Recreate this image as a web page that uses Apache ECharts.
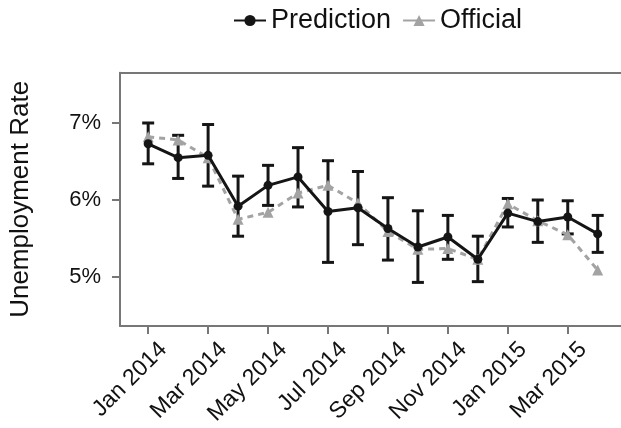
<!DOCTYPE html>
<html>
<head>
<meta charset="utf-8">
<script src="https://cdn.jsdelivr.net/npm/echarts@6/dist/echarts.min.js"></script>
<style>html,body{margin:0;padding:0;background:#fff}#c{width:621px;height:428px}</style>
</head>
<body>
<div id="c"></div>
<script>
const months = ['Jan 2014','Feb 2014','Mar 2014','Apr 2014','May 2014','Jun 2014','Jul 2014','Aug 2014','Sep 2014','Oct 2014','Nov 2014','Dec 2014','Jan 2015','Feb 2015','Mar 2015','Apr 2015'];
const prediction = [6.73, 6.55, 6.58, 5.92, 6.19, 6.30, 5.85, 5.90, 5.63, 5.39, 5.52, 5.23, 5.83, 5.72, 5.78, 5.56];
const lower = [6.47, 6.28, 6.18, 5.53, 5.93, 5.91, 5.19, 5.42, 5.22, 4.93, 5.23, 4.94, 5.65, 5.45, 5.56, 5.32];
const upper = [7.00, 6.84, 6.98, 6.31, 6.45, 6.68, 6.51, 6.37, 6.03, 5.86, 5.80, 5.53, 6.02, 6.00, 5.99, 5.80];
const official = [6.82, 6.78, 6.55, 5.75, 5.84, 6.09, 6.19, 5.96, 5.59, 5.36, 5.37, 5.23, 5.95, 5.73, 5.55, 5.09];
const xTickIdx = [0, 2, 4, 6, 8, 10, 12, 14];
const yTicks = [5, 6, 7];

const font = 'Liberation Sans, Arial, Helvetica, sans-serif';
const chart = echarts.init(document.getElementById('c'), null, {renderer: 'canvas'});
const predData = prediction.map((v, i) => [i, v]);
const offData = official.map((v, i) => [i, v]);
const errData = months.map((m, i) => [i, lower[i], upper[i]]);
const frame = {show: true, onZero: false, lineStyle: {color: '#777', width: 2}};

chart.setOption({
  animation: false,
  backgroundColor: '#fff',
  textStyle: {fontFamily: font},
  legend: {
    left: 228, top: 2,
    itemWidth: 32, itemHeight: 14, itemGap: 11,
    textStyle: {fontSize: 27, color: '#111', fontFamily: font},
    data: [
      {name: 'Prediction'},
      {name: 'Official', lineStyle: {type: 'solid'}}
    ]
  },
  grid: {left: 119.5, right: 0, top: 72.7, bottom: 102, show: false, containLabel: false},
  xAxis: [{
    type: 'value', min: -0.94, max: 15.777, position: 'bottom',
    axisLine: frame,
    splitLine: {show: false},
    axisTick: {show: true, length: 8, lineStyle: {color: '#777', width: 2}, customValues: xTickIdx},
    axisLabel: {
      customValues: xTickIdx, rotate: 45, margin: 19, fontSize: 23, color: '#111', fontFamily: font,
      align: 'right', verticalAlign: 'top', padding: [0, -10, 0, 0],
      formatter: v => months[Math.round(v)]
    }
  }, {
    type: 'value', min: -0.94, max: 15.777, position: 'top',
    axisLine: frame, axisTick: {show: false}, axisLabel: {show: false}, splitLine: {show: false}
  }],
  yAxis: {
    type: 'value', min: 4.364, max: 7.653,
    name: 'Unemployment Rate', nameLocation: 'middle', nameGap: 86,
    nameTextStyle: {fontSize: 26, color: '#111', fontFamily: font},
    axisLine: frame,
    splitLine: {show: false},
    axisTick: {show: true, length: 8, lineStyle: {color: '#777', width: 2}, customValues: yTicks},
    axisLabel: {customValues: yTicks, margin: 19, fontSize: 22, color: '#111', fontFamily: font, formatter: v => Math.round(v) + '%'}
  },
  series: [
    {
      type: 'custom', name: 'err', z: 2, silent: true,
      data: errData,
      renderItem: (params, api) => {
        const x = api.value(0);
        const lo = api.coord([x, api.value(1)]);
        const hi = api.coord([x, api.value(2)]);
        const hw = 6;
        const st = {stroke: '#151515', lineWidth: 3};
        return {type: 'group', children: [
          {type: 'line', shape: {x1: lo[0], y1: lo[1], x2: hi[0], y2: hi[1]}, style: st},
          {type: 'line', shape: {x1: lo[0]-hw, y1: lo[1], x2: lo[0]+hw, y2: lo[1]}, style: st},
          {type: 'line', shape: {x1: hi[0]-hw, y1: hi[1], x2: hi[0]+hw, y2: hi[1]}, style: st}
        ]};
      }
    },
    {
      type: 'line', name: 'Official', z: 3, data: offData,
      symbol: 'triangle', symbolSize: 11,
      lineStyle: {color: '#a3a3a3', width: 3, type: [6, 5]},
      itemStyle: {color: '#a3a3a3'}
    },
    {
      type: 'line', name: 'Prediction', z: 4, data: predData,
      symbol: 'circle', symbolSize: 9,
      lineStyle: {color: '#151515', width: 3},
      itemStyle: {color: '#151515'}
    }
  ]
});
</script>
</body>
</html>
